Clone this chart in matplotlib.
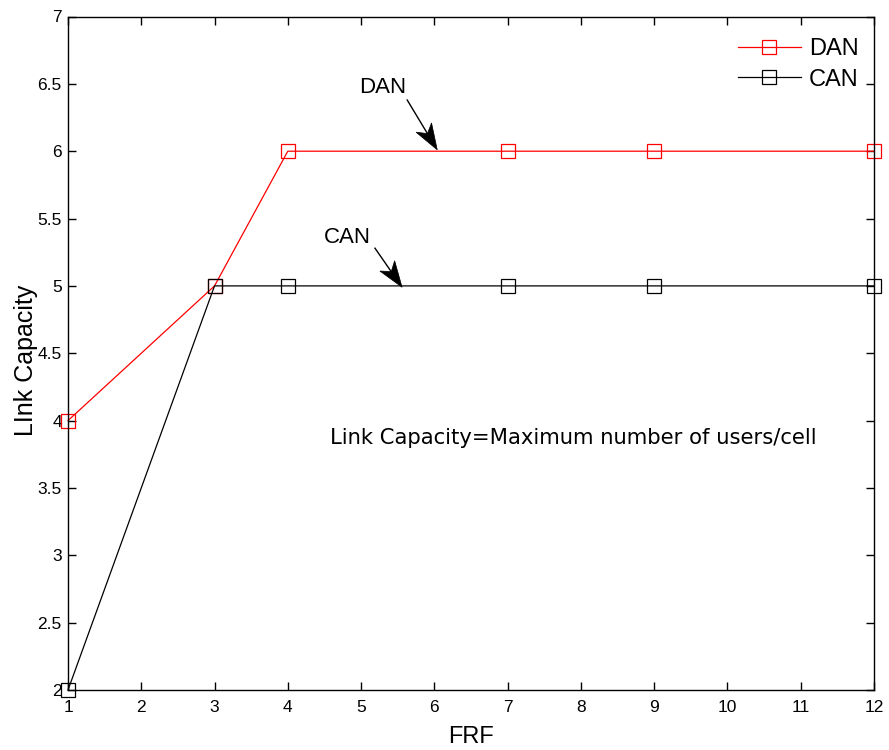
import matplotlib
matplotlib.use('Agg')
import matplotlib.pyplot as plt
import numpy as np
from matplotlib.patches import Polygon
from matplotlib.transforms import IdentityTransform

# FRF values and link capacity for each scheme
frf = [1, 3, 4, 7, 9, 12]
dan_capacity = [4, 5, 6, 6, 6, 6]
can_capacity = [2, 5, 5, 5, 5, 5]

x_ticks = list(range(1, 13))
y_ticks = [2, 2.5, 3, 3.5, 4, 4.5, 5, 5.5, 6, 6.5, 7]
y_tick_labels = ['2', '2.5', '3', '3.5', '4', '4.5', '5', '5.5', '6', '6.5', '7']

plt.rcParams['font.family'] = ['Liberation Sans', 'DejaVu Sans']


def draw_arrow(ax, start, tip, head_len=26, half_w=9, notch=7):
    # matlab style arrow: thin shaft + notched filled head, built in pixel space
    p0 = ax.transData.transform(start)
    p1 = ax.transData.transform(tip)
    d = p1 - p0
    u = d / np.hypot(*d)
    n = np.array([-u[1], u[0]])
    back = p1 - u * head_len
    head = [p1, back + n * half_w, p1 - u * (head_len - notch), back - n * half_w]
    ax.add_patch(Polygon(head, closed=True, facecolor='black', edgecolor='black',
                         linewidth=0.5, transform=IdentityTransform()))
    shaft_end = p1 - u * (head_len - notch)
    ax.plot([p0[0], shaft_end[0]], [p0[1], shaft_end[1]], color='black', linewidth=1,
            transform=IdentityTransform())


fig = plt.figure(figsize=(8.89, 7.5), dpi=100)
ax = fig.add_axes([0.0765, 0.08, 0.9065, 0.898])

ax.plot(frf, dan_capacity, color='red', linewidth=0.9, marker='s', markersize=9.5,
        markerfacecolor='none', markeredgecolor='red', markeredgewidth=0.9, label='DAN',
        clip_on=False)
ax.plot(frf, can_capacity, color='black', linewidth=0.9, marker='s', markersize=9.5,
        markerfacecolor='none', markeredgecolor='black', markeredgewidth=0.9, label='CAN',
        clip_on=False)

ax.set_xlim(1, 12)
ax.set_ylim(2, 7)
ax.set_xticks(x_ticks)
ax.set_yticks(y_ticks)
ax.set_yticklabels(y_tick_labels)
ax.tick_params(direction='in', length=6, width=1, top=True, right=True, labelsize=12.5)
ax.tick_params(axis='x', pad=7)
ax.tick_params(axis='y', pad=4.5)
for sp in ax.spines.values():
    sp.set_linewidth(1.0)

ax.set_xlabel('FRF', fontsize=17, labelpad=8)
ax.set_ylabel('LInk Capacity', fontsize=18)
ax.yaxis.set_label_coords(-0.037, 0.49)

ax.text(5.30, 6.47, 'DAN', fontsize=16, ha='center', va='center')
ax.text(4.81, 5.36, 'CAN', fontsize=16, ha='center', va='center')
draw_arrow(ax, (5.63, 6.38), (6.04, 6.01))
draw_arrow(ax, (5.19, 5.28), (5.56, 4.99))

ax.text(4.58, 3.87, 'Link Capacity=Maximum number of users/cell', fontsize=15.25,
        family='DejaVu Sans', ha='left', va='center')

leg = ax.legend(loc='upper right', bbox_to_anchor=(1.0099, 1.003), frameon=False,
                handlelength=2.67, handletextpad=0.34, borderaxespad=0.6,
                labelspacing=0.36, prop={'size': 17})

fig.savefig('out.png', dpi=100)
